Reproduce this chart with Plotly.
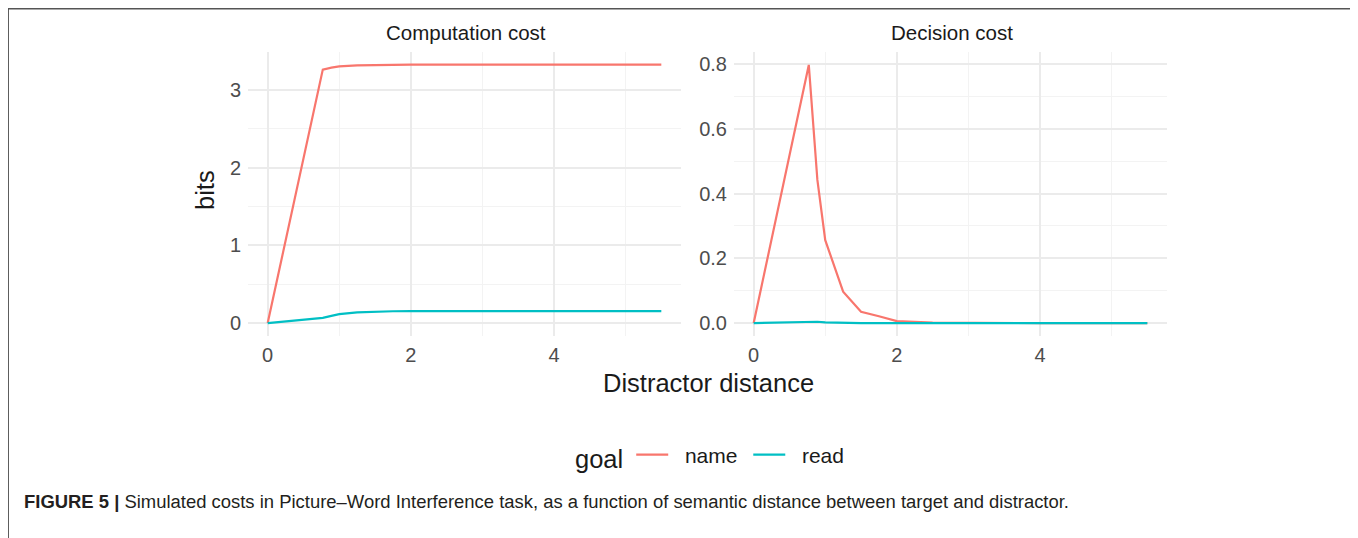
import plotly.graph_objects as go
from plotly.subplots import make_subplots

# ---- data ----
distance = [0, 0.77, 0.89, 1.0, 1.25, 1.5, 1.75, 2.0, 2.5, 3.0, 3.5, 4.0, 4.5, 5.0, 5.5]
comp_name = [0, 3.26, 3.285, 3.30, 3.315, 3.32, 3.322, 3.323, 3.323, 3.323, 3.323, 3.323, 3.323, 3.323, 3.323]
comp_read = [0, 0.068, 0.092, 0.116, 0.138, 0.148, 0.152, 0.155, 0.155, 0.155, 0.155, 0.155, 0.155, 0.155, 0.155]
dec_name = [0, 0.797, 0.442, 0.256, 0.097, 0.035, 0.021, 0.006, 0.001, 0, 0, 0, 0, 0, 0]
dec_read = [0, 0.004, 0.004, 0.002, 0.0005, 0, 0, 0, 0, 0, 0, 0, 0, 0, 0]

panel_titles = ["Computation cost", "Decision cost"]
goals = ["name", "read"]
colors = {"name": "#F8766D", "read": "#00BFC4"}
left_yticks = [0, 1, 2, 3]
right_yticks = [0.0, 0.2, 0.4, 0.6, 0.8]
xticks = [0, 2, 4]

# page has an 8px body margin; targets below are in screen pixels
OFF = 8
W, H = 1350, 530
ml, mt = 248 - OFF, 52 - OFF
mr = W - (1167 - OFF)
mb = H - (336 - OFF)
pw = W - ml - mr
ph = H - mt - mb

def px_x(p):
    return (p - OFF - ml) / pw

def px_y(p):
    return (H - mb - (p - OFF)) / ph

fig = make_subplots(rows=1, cols=2, horizontal_spacing=0)
fig.update_layout(
    xaxis=dict(domain=[0, px_x(681)]),
    xaxis2=dict(domain=[px_x(734), 1]),
)

NB = "\u00a0"
series = {
    1: {"name": comp_name, "read": comp_read},
    2: {"name": dec_name, "read": dec_read},
}
for col in (1, 2):
    for g in goals:
        fig.add_trace(
            go.Scatter(
                x=distance, y=series[col][g], mode="lines", name=NB * 2 + g + NB,
                line=dict(color=colors[g], width=2.2),
                showlegend=(col == 1), legendgroup=g,
            ),
            row=1, col=col,
        )

FONT = "Liberation Sans, Arial, Helvetica, sans-serif"
tickfont = dict(family=FONT, size=20, color="#4d4d4d")
grid_major = "#ebebeb"
grid_minor = "#f3f3f3"

for col in (1, 2):
    fig.update_xaxes(
        row=1, col=col, range=[-0.275, 5.775], tickvals=xticks,
        ticktext=[str(v) for v in xticks],
        showgrid=True, gridcolor=grid_major, gridwidth=1.6,
        minor=dict(tickvals=[1, 3, 5], showgrid=True, gridcolor=grid_minor, gridwidth=0.9),
        zeroline=False, showline=False, ticks="", tickfont=tickfont,
        ticklabelstandoff=5,
    )

fig.update_yaxes(
    row=1, col=1, range=[-0.166, 3.486], tickvals=left_yticks,
    ticktext=[str(v) for v in left_yticks],
    minor=dict(tickvals=[0.5, 1.5, 2.5], showgrid=True, gridcolor=grid_minor, gridwidth=0.9),
)
fig.update_yaxes(
    row=1, col=2, range=[-0.04, 0.837], tickvals=right_yticks,
    ticktext=[f"{v:.1f}" for v in right_yticks],
    minor=dict(tickvals=[0.1, 0.3, 0.5, 0.7], showgrid=True, gridcolor=grid_minor, gridwidth=0.9),
)
fig.update_yaxes(
    showgrid=True, gridcolor=grid_major, gridwidth=1.6,
    zeroline=False, showline=False, ticks="", tickfont=tickfont,
    ticklabelstandoff=6,
)

annotations = []
annotations.append(dict(text=panel_titles[0], x=px_x(465.5), y=px_y(33), xref="paper", yref="paper",
                        showarrow=False, font=dict(family=FONT, size=20.5, color="#1a1a1a"),
                        xanchor="center", yanchor="middle"))
annotations.append(dict(text=panel_titles[1], x=px_x(952), y=px_y(33), xref="paper", yref="paper",
                        showarrow=False, font=dict(family=FONT, size=20.5, color="#1a1a1a"),
                        xanchor="center", yanchor="middle"))
annotations.append(dict(text="bits", x=px_x(205), y=px_y(190), xref="paper", yref="paper",
                        showarrow=False, textangle=-90, font=dict(family=FONT, size=25.5, color="#1a1a1a"),
                        xanchor="center", yanchor="middle"))
annotations.append(dict(text="Distractor distance", x=px_x(708.5), y=px_y(383), xref="paper", yref="paper",
                        showarrow=False, font=dict(family=FONT, size=25.5, color="#1a1a1a"),
                        xanchor="center", yanchor="middle"))
annotations.append(dict(
    text="<b>FIGURE 5 |</b> Simulated costs in Picture–Word Interference task, as a function of semantic distance between target and distractor.",
    x=px_x(21.5), y=px_y(502), xref="paper", yref="paper", showarrow=False,
    font=dict(family=FONT, size=18.45, color="#231f20"),
    xanchor="left", yanchor="middle"))

fig.update_layout(
    width=W, height=H,
    margin=dict(l=ml, r=mr, t=mt, b=mb, autoexpand=False),
    paper_bgcolor="white", plot_bgcolor="white",
    annotations=annotations,
    legend=dict(
        orientation="h", x=px_x(714), y=px_y(456.5), xanchor="center", yanchor="middle",
        title=dict(text="goal", font=dict(family=FONT, size=25.5, color="#1a1a1a")),
        font=dict(family=FONT, size=21, color="#1a1a1a"),
        itemwidth=32, bgcolor="rgba(0,0,0,0)",
    ),
    shapes=[dict(type="rect", xref="paper", yref="paper",
                 x0=px_x(8.2), x1=px_x(1355.5), y0=px_y(560), y1=px_y(8.8),
                 line=dict(color="#555555", width=1.5), fillcolor="rgba(0,0,0,0)", layer="above")],
)

fig.write_html("out.html")
